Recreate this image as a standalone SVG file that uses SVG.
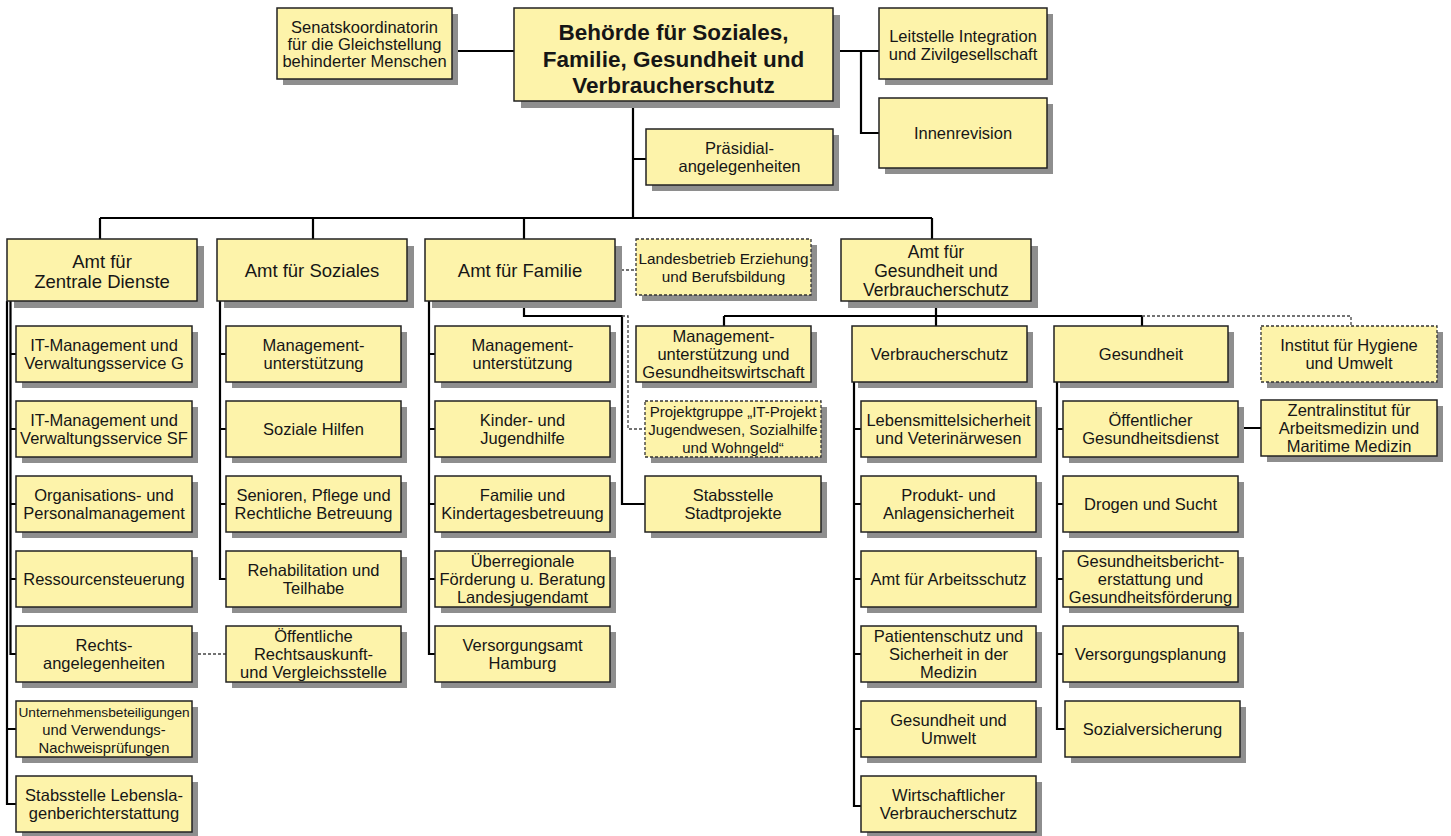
<svg xmlns="http://www.w3.org/2000/svg" width="1451" height="836" viewBox="0 0 1451 836">
<style>
.sh{fill:#8e8e8e;stroke:none}
.bx{fill:#fdf3aa;stroke:#222;stroke-width:1.5}
.dbx{fill:#fdf3aa;stroke:#333;stroke-width:1.3;stroke-dasharray:3 2}
text{font-family:"Liberation Sans",Arial,sans-serif;font-size:16.5px;fill:#161616;text-anchor:middle}
.h{font-size:18.5px}
.b{font-size:22.5px;font-weight:bold}
.s{font-size:15.3px}
.ln{fill:none;stroke:#000;stroke-width:2.2}
.dl{fill:none;stroke:#444;stroke-width:1.3;stroke-dasharray:3 2}
</style>
<rect width="1451" height="836" fill="#fff"/>
<g id="connectors">
<path class="ln" d="M452 51H514M833 51H879M861 51V133H879M633 101V218M633 159H646"/>
<path class="ln" d="M100 218H932M100 218V239M313 218V239M524 218V239M932 218V239"/>
<path class="ln" d="M7 301V804H16M7 729H16M10.5 301V654H16M10.5 354H16M10.5 429H16M10.5 504H16M10.5 579H16"/>
<path class="ln" d="M220 301V579H226M220 354H226M220 429H226M220 504H226"/>
<path class="ln" d="M429 301V654H435M429 354H435M429 429H435M429 504H435M429 579H435"/>
<path class="ln" d="M524 301V316H622V504H645"/>
<path class="ln" d="M936 301V326M724 316H1142M724 316V326M1142 316V326"/>
<path class="ln" d="M854 382V806H861M854 429H861M854 504H861M854 579H861M854 654H861M854 729H861"/>
<path class="ln" d="M1057 382V729H1065M1057 429H1063M1057 504H1063M1057 579H1063M1057 654H1063M1238 428H1261"/>
<path class="dl" d="M621 270H636M622 316H628V429H645M198 654H226M1142 316H1351V326"/>
</g>
<g id="senats"><rect class="sh" x="283" y="14" width="175" height="71"/><rect class="bx" x="277" y="8" width="175" height="71"/><text><tspan x="364.5" y="33">Senatskoordinatorin</tspan><tspan x="364.5" y="50">für die Gleichstellung</tspan><tspan x="364.5" y="67">behinderter Menschen</tspan></text></g>
<g id="behoerde"><rect class="sh" x="521" y="15" width="319" height="93"/><rect class="bx" x="514" y="8" width="319" height="93" stroke-width="2"/><text class="b"><tspan x="673.5" y="40">Behörde für Soziales,</tspan><tspan x="673.5" y="67">Familie, Gesundheit und</tspan><tspan x="673.5" y="93">Verbraucherschutz</tspan></text></g>
<g id="leitstelle"><rect class="sh" x="885" y="14" width="168" height="71"/><rect class="bx" x="879" y="8" width="168" height="71"/><text><tspan x="963" y="42">Leitstelle Integration</tspan><tspan x="963" y="60">und Zivilgesellschaft</tspan></text></g>
<g id="innenrevision"><rect class="sh" x="885" y="104" width="168" height="70"/><rect class="bx" x="879" y="98" width="168" height="70"/><text x="963" y="139">Innenrevision</text></g>
<g id="praesidial"><rect class="sh" x="652" y="135" width="187" height="56"/><rect class="bx" x="646" y="129" width="187" height="56"/><text><tspan x="739.5" y="154">Präsidial-</tspan><tspan x="739.5" y="172">angelegenheiten</tspan></text></g>
<g id="amt-zd"><rect class="sh" x="14" y="246" width="190" height="62"/><rect class="bx" x="7" y="239" width="190" height="62"/><text class="h"><tspan x="102" y="268">Amt für</tspan><tspan x="102" y="288">Zentrale Dienste</tspan></text></g>
<g id="amt-soz"><rect class="sh" x="224" y="246" width="190" height="62"/><rect class="bx" x="217" y="239" width="190" height="62"/><text class="h" x="312" y="277">Amt für Soziales</text></g>
<g id="amt-fam"><rect class="sh" x="432" y="246" width="190" height="62"/><rect class="bx" x="425" y="239" width="190" height="62"/><text class="h" x="520" y="277">Amt für Familie</text></g>
<g id="landesbetrieb"><rect class="sh" x="642" y="245" width="175" height="56"/><rect class="dbx" x="636" y="239" width="175" height="56"/><text class="s"><tspan x="723.5" y="264">Landesbetrieb Erziehung</tspan><tspan x="723.5" y="282">und Berufsbildung</tspan></text></g>
<g id="amt-g"><rect class="sh" x="848" y="246" width="190" height="62"/><rect class="bx" x="841" y="239" width="190" height="62"/><text class="h" style="font-size:17.5px"><tspan x="936" y="257.5">Amt für</tspan><tspan x="936" y="276.5">Gesundheit und</tspan><tspan x="936" y="295.5">Verbraucherschutz</tspan></text></g>
<g id="zd-it-g"><rect class="sh" x="22" y="332" width="176" height="56"/><rect class="bx" x="16" y="326" width="176" height="56"/><text><tspan x="104" y="351">IT-Management und</tspan><tspan x="104" y="369">Verwaltungsservice G</tspan></text></g>
<g id="zd-it-sf"><rect class="sh" x="22" y="407" width="176" height="56"/><rect class="bx" x="16" y="401" width="176" height="56"/><text><tspan x="104" y="426">IT-Management und</tspan><tspan x="104" y="444">Verwaltungsservice SF</tspan></text></g>
<g id="zd-org"><rect class="sh" x="22" y="482" width="176" height="56"/><rect class="bx" x="16" y="476" width="176" height="56"/><text><tspan x="104" y="501">Organisations- und</tspan><tspan x="104" y="519">Personalmanagement</tspan></text></g>
<g id="zd-ress"><rect class="sh" x="22" y="557" width="176" height="56"/><rect class="bx" x="16" y="551" width="176" height="56"/><text x="104" y="585">Ressourcensteuerung</text></g>
<g id="zd-recht"><rect class="sh" x="22" y="632" width="176" height="56"/><rect class="bx" x="16" y="626" width="176" height="56"/><text><tspan x="104" y="651">Rechts-</tspan><tspan x="104" y="669">angelegenheiten</tspan></text></g>
<g id="zd-unt"><rect class="sh" x="22" y="707" width="176" height="56"/><rect class="bx" x="16" y="701" width="176" height="56"/><text style="font-size:14.8px"><tspan x="104" y="717" style="font-size:13.7px">Unternehmensbeteiligungen</tspan><tspan x="104" y="735">und Verwendungs-</tspan><tspan x="104" y="753">Nachweisprüfungen</tspan></text></g>
<g id="zd-stab"><rect class="sh" x="22" y="782" width="176" height="56"/><rect class="bx" x="16" y="776" width="176" height="56"/><text><tspan x="104" y="801">Stabsstelle Lebensla-</tspan><tspan x="104" y="819">genberichterstattung</tspan></text></g>
<g id="soz-mgmt"><rect class="sh" x="232" y="332" width="175" height="56"/><rect class="bx" x="226" y="326" width="175" height="56"/><text><tspan x="313.5" y="351">Management-</tspan><tspan x="313.5" y="369">unterstützung</tspan></text></g>
<g id="soz-hilfen"><rect class="sh" x="232" y="407" width="175" height="56"/><rect class="bx" x="226" y="401" width="175" height="56"/><text x="313.5" y="435">Soziale Hilfen</text></g>
<g id="soz-senioren"><rect class="sh" x="232" y="482" width="175" height="56"/><rect class="bx" x="226" y="476" width="175" height="56"/><text><tspan x="313.5" y="501">Senioren, Pflege und</tspan><tspan x="313.5" y="519">Rechtliche Betreuung</tspan></text></g>
<g id="soz-rehab"><rect class="sh" x="232" y="557" width="175" height="56"/><rect class="bx" x="226" y="551" width="175" height="56"/><text><tspan x="313.5" y="576">Rehabilitation und</tspan><tspan x="313.5" y="594">Teilhabe</tspan></text></g>
<g id="soz-oera"><rect class="sh" x="232" y="632" width="175" height="56"/><rect class="bx" x="226" y="626" width="175" height="56"/><text><tspan x="313.5" y="642">Öffentliche</tspan><tspan x="313.5" y="660">Rechtsauskunft-</tspan><tspan x="313.5" y="678">und Vergleichsstelle</tspan></text></g>
<g id="fam-mgmt"><rect class="sh" x="441" y="332" width="175" height="56"/><rect class="bx" x="435" y="326" width="175" height="56"/><text><tspan x="522.5" y="351">Management-</tspan><tspan x="522.5" y="369">unterstützung</tspan></text></g>
<g id="fam-kinder"><rect class="sh" x="441" y="407" width="175" height="56"/><rect class="bx" x="435" y="401" width="175" height="56"/><text><tspan x="522.5" y="426">Kinder- und</tspan><tspan x="522.5" y="444">Jugendhilfe</tspan></text></g>
<g id="fam-kita"><rect class="sh" x="441" y="482" width="175" height="56"/><rect class="bx" x="435" y="476" width="175" height="56"/><text><tspan x="522.5" y="501">Familie und</tspan><tspan x="522.5" y="519">Kindertagesbetreuung</tspan></text></g>
<g id="fam-ueber"><rect class="sh" x="441" y="557" width="175" height="56"/><rect class="bx" x="435" y="551" width="175" height="56"/><text><tspan x="522.5" y="567">Überregionale</tspan><tspan x="522.5" y="585">Förderung u. Beratung</tspan><tspan x="522.5" y="603">Landesjugendamt</tspan></text></g>
<g id="fam-versorg"><rect class="sh" x="441" y="632" width="175" height="56"/><rect class="bx" x="435" y="626" width="175" height="56"/><text><tspan x="522.5" y="651">Versorgungsamt</tspan><tspan x="522.5" y="669">Hamburg</tspan></text></g>
<g id="g-mgmt"><rect class="sh" x="642" y="332" width="175" height="56"/><rect class="bx" x="636" y="326" width="175" height="56"/><text><tspan x="723.5" y="342">Management-</tspan><tspan x="723.5" y="360">unterstützung und</tspan><tspan x="723.5" y="378">Gesundheitswirtschaft</tspan></text></g>
<g id="projektgruppe"><rect class="sh" x="651" y="407" width="176" height="56"/><rect class="dbx" x="645" y="401" width="176" height="56"/><text style="font-size:15px"><tspan x="733" y="417">Projektgruppe „IT-Projekt</tspan><tspan x="733" y="435">Jugendwesen, Sozialhilfe</tspan><tspan x="733" y="453">und Wohngeld“</tspan></text></g>
<g id="stadtprojekte"><rect class="sh" x="651" y="482" width="176" height="56"/><rect class="bx" x="645" y="476" width="176" height="56"/><text><tspan x="733" y="501">Stabsstelle</tspan><tspan x="733" y="519">Stadtprojekte</tspan></text></g>
<g id="vs"><rect class="sh" x="858" y="332" width="175" height="56"/><rect class="bx" x="852" y="326" width="175" height="56"/><text x="939.5" y="360">Verbraucherschutz</text></g>
<g id="vs-lebensmittel"><rect class="sh" x="867" y="407" width="175" height="56"/><rect class="bx" x="861" y="401" width="175" height="56"/><text><tspan x="948.5" y="426">Lebensmittelsicherheit</tspan><tspan x="948.5" y="444">und Veterinärwesen</tspan></text></g>
<g id="vs-produkt"><rect class="sh" x="867" y="482" width="175" height="56"/><rect class="bx" x="861" y="476" width="175" height="56"/><text><tspan x="948.5" y="501">Produkt- und</tspan><tspan x="948.5" y="519">Anlagensicherheit</tspan></text></g>
<g id="vs-arbeitsschutz"><rect class="sh" x="867" y="557" width="175" height="56"/><rect class="bx" x="861" y="551" width="175" height="56"/><text x="948.5" y="585">Amt für Arbeitsschutz</text></g>
<g id="vs-patienten"><rect class="sh" x="867" y="632" width="175" height="56"/><rect class="bx" x="861" y="626" width="175" height="56"/><text><tspan x="948.5" y="642">Patientenschutz und</tspan><tspan x="948.5" y="660">Sicherheit in der</tspan><tspan x="948.5" y="678">Medizin</tspan></text></g>
<g id="vs-umwelt"><rect class="sh" x="867" y="707" width="175" height="56"/><rect class="bx" x="861" y="701" width="175" height="56"/><text><tspan x="948.5" y="726">Gesundheit und</tspan><tspan x="948.5" y="744">Umwelt</tspan></text></g>
<g id="vs-wirtschaft"><rect class="sh" x="867" y="782" width="175" height="56"/><rect class="bx" x="861" y="776" width="175" height="56"/><text><tspan x="948.5" y="801">Wirtschaftlicher</tspan><tspan x="948.5" y="819">Verbraucherschutz</tspan></text></g>
<g id="ges"><rect class="sh" x="1060" y="332" width="174" height="56"/><rect class="bx" x="1054" y="326" width="174" height="56"/><text x="1141" y="360">Gesundheit</text></g>
<g id="ges-oegd"><rect class="sh" x="1069" y="407" width="175" height="56"/><rect class="bx" x="1063" y="401" width="175" height="56"/><text><tspan x="1150.5" y="426">Öffentlicher</tspan><tspan x="1150.5" y="444">Gesundheitsdienst</tspan></text></g>
<g id="ges-drogen"><rect class="sh" x="1069" y="482" width="175" height="56"/><rect class="bx" x="1063" y="476" width="175" height="56"/><text x="1150.5" y="510">Drogen und Sucht</text></g>
<g id="ges-bericht"><rect class="sh" x="1069" y="557" width="175" height="56"/><rect class="bx" x="1063" y="551" width="175" height="56"/><text><tspan x="1150.5" y="567">Gesundheitsbericht-</tspan><tspan x="1150.5" y="585">erstattung und</tspan><tspan x="1150.5" y="603">Gesundheitsförderung</tspan></text></g>
<g id="ges-planung"><rect class="sh" x="1069" y="632" width="175" height="56"/><rect class="bx" x="1063" y="626" width="175" height="56"/><text x="1150.5" y="660">Versorgungsplanung</text></g>
<g id="ges-sozialvers"><rect class="sh" x="1071" y="707" width="175" height="56"/><rect class="bx" x="1065" y="701" width="175" height="56"/><text x="1152.5" y="735">Sozialversicherung</text></g>
<g id="institut"><rect class="sh" x="1267" y="332" width="176" height="56"/><rect class="dbx" x="1261" y="326" width="176" height="56"/><text><tspan x="1349" y="351">Institut für Hygiene</tspan><tspan x="1349" y="369">und Umwelt</tspan></text></g>
<g id="zentralinstitut"><rect class="sh" x="1267" y="406" width="176" height="56"/><rect class="bx" x="1261" y="400" width="176" height="56"/><text><tspan x="1349" y="416">Zentralinstitut für</tspan><tspan x="1349" y="434">Arbeitsmedizin und</tspan><tspan x="1349" y="452">Maritime Medizin</tspan></text></g>
</svg>
